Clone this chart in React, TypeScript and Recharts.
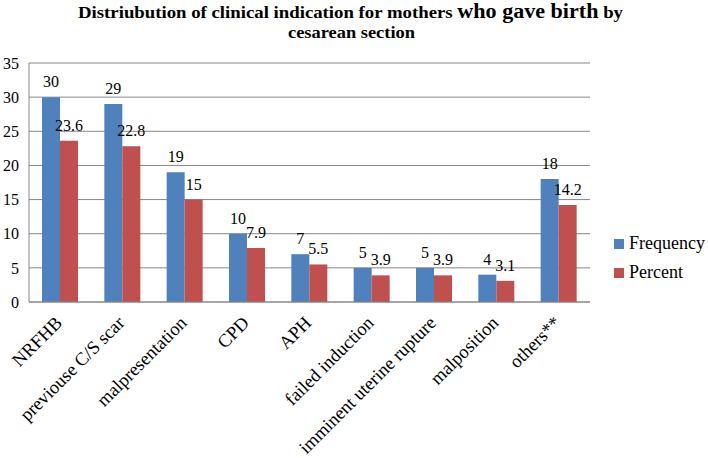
import React from 'react';
import {
  BarChart,
  Bar,
  XAxis,
  YAxis,
  CartesianGrid,
  Legend,
  LabelList,
} from 'recharts';

const categories: string[] = [
  'NRFHB',
  'previouse C/S scar',
  'malpresentation',
  'CPD',
  'APH',
  'failed induction',
  'imminent uterine rupture',
  'malposition',
  'others**',
];

const frequency: number[] = [30, 29, 19, 10, 7, 5, 5, 4, 18];
const percent: number[] = [23.6, 22.8, 15, 7.9, 5.5, 3.9, 3.9, 3.1, 14.2];

const yTicks: number[] = [0, 5, 10, 15, 20, 25, 30, 35];

const chartData = categories.map((name, i) => ({
  name,
  Frequency: frequency[i],
  Percent: percent[i],
}));

const FONT = '"Liberation Serif", "Times New Roman", serif';
const GRID = '#878787';

const AngledTick = (props: any) => {
  const { x, y, payload } = props;
  return (
    <g transform={`translate(${x + 3},${y + 22})`}>
      <text
        transform="rotate(-45)"
        textAnchor="end"
        fontFamily={FONT}
        fontSize={18.5}
        fill="#000"
      >
        {payload.value}
      </text>
    </g>
  );
};

const renderLegend = (props: any) => {
  const { payload } = props;
  return (
    <div style={{ fontFamily: FONT, fontSize: 18, color: '#000' }}>
      {(payload || []).map((entry: any) => (
        <div
          key={entry.value}
          style={{ display: 'flex', alignItems: 'center', height: 29 }}
        >
          <span
            style={{
              display: 'inline-block',
              width: 10,
              height: 10,
              background: entry.color,
              marginRight: 5,
            }}
          />
          {entry.value}
        </div>
      ))}
    </div>
  );
};

const App: React.FC = () => {
  return (
    <div style={{ position: 'absolute', left: 0, top: 0, width: 708, height: 458, background: '#fff' }}>
      <svg
        width={708}
        height={50}
        style={{ position: 'absolute', left: 0, top: 0, pointerEvents: 'none' }}
      >
        <text
          x={78}
          y={18}
          textLength={545}
          lengthAdjust="spacingAndGlyphs"
          fontFamily={FONT}
          fontWeight="bold"
          fontSize={17}
          fill="#000"
        >
          <tspan>Distriubution of clinical indication for mothers </tspan>
          <tspan fontSize={20}>who gave birth</tspan>
          <tspan> by</tspan>
        </text>
        <text
          x={288}
          y={38}
          textLength={127}
          lengthAdjust="spacingAndGlyphs"
          fontFamily={FONT}
          fontWeight="bold"
          fontSize={17}
          fill="#000"
        >
          cesarean section
        </text>
      </svg>
      <BarChart
        width={708}
        height={458}
        data={chartData}
        margin={{ top: 63, right: 118, bottom: 0, left: 0 }}
        barSize={18}
        barGap={0}
      >
        <CartesianGrid vertical={false} stroke={GRID} />
        <XAxis
          dataKey="name"
          interval={0}
          height={156}
          tickLine={false}
          tickSize={0}
          tickMargin={0}
          axisLine={{ stroke: GRID }}
          tick={<AngledTick />}
        />
        <YAxis
          width={29}
          domain={[0, 35]}
          ticks={yTicks}
          tickLine={false}
          tickSize={0}
          tickMargin={10}
          axisLine={{ stroke: GRID }}
          tick={{ fontFamily: FONT, fontSize: 16, fill: '#000' }}
        />
        <Legend
          layout="vertical"
          align="center"
          verticalAlign="middle"
          content={renderLegend}
          wrapperStyle={{ left: 614, top: 229, width: 94 }}
        />
        <Bar dataKey="Frequency" fill="#4F81BD" isAnimationActive={false}>
          <LabelList
            dataKey="Frequency"
            position="top"
            offset={10}
            fontFamily={FONT}
            fontSize={16}
            fill="#000"
          />
        </Bar>
        <Bar dataKey="Percent" fill="#C0504D" isAnimationActive={false}>
          <LabelList
            dataKey="Percent"
            position="top"
            offset={10}
            fontFamily={FONT}
            fontSize={16}
            fill="#000"
          />
        </Bar>
      </BarChart>
    </div>
  );
};

export default App;
